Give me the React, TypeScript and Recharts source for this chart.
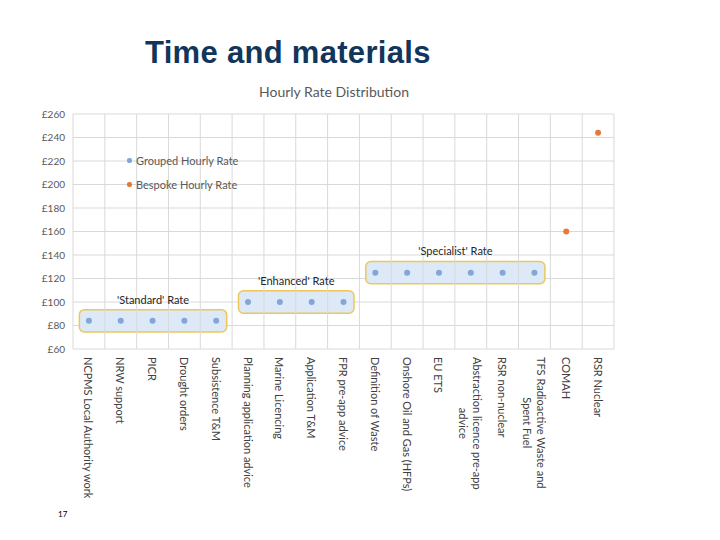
import React from 'react';
import {
  ScatterChart,
  Scatter,
  XAxis,
  YAxis,
  CartesianGrid,
  ReferenceArea,
  ReferenceLine,
} from 'recharts';

const categories = [
  'NCPMS Local Authority work',
  'NRW support',
  'PICR',
  'Drought orders',
  'Subsistence T&M',
  'Planning application advice',
  'Marine Licencing',
  'Application T&M',
  'FPR pre-app advice',
  'Definition of Waste',
  'Onshore Oil and Gas (HFPs)',
  'EU ETS',
  'Abstraction licence pre-app\nadvice',
  'RSR non-nuclear',
  'TFS Radioactive Waste and\nSpent Fuel',
  'COMAH',
  'RSR Nuclear',
];

// hourly rate per category, grouped ones first, bespoke last
const groupedRates = [84, 84, 84, 84, 84, 100, 100, 100, 100, 125, 125, 125, 125, 125, 125];
const bespokeRates = [160, 244];

const yTicks = [60, 80, 100, 120, 140, 160, 180, 200, 220, 240, 260];

const rateGroups = [
  { label: "'Standard' Rate", first: 0, last: 4 },
  { label: "'Enhanced' Rate", first: 5, last: 8 },
  { label: "'Specialist' Rate", first: 9, last: 14 },
];

const BLUE = '#80a7d6';
const ORANGE = '#e8773a';
const GRID = '#d9d9d9';
const FONT = 'Lato, "Liberation Sans", sans-serif';

const groupedData = groupedRates.map((y, i) => ({ x: i, y }));
const bespokeData = bespokeRates.map((y, i) => ({ x: groupedRates.length + i, y }));
const boundaries = [...categories.map((_, i) => i - 0.5), categories.length - 0.5];

let ctx: CanvasRenderingContext2D | null = null;
const measure = (text: string) => {
  if (!ctx) ctx = document.createElement('canvas').getContext('2d');
  if (!ctx) return text.length * 5.3;
  ctx.font = `11px ${FONT}`;
  return ctx.measureText(text).width;
};

const CategoryTick = (props: any) => {
  const { x, y, payload } = props;
  const lines = (categories[payload.value] ?? '').split('\n');
  const w = measure(lines[0]);
  return (
    <g transform={`translate(${x},${y})`}>
      <g transform="rotate(90)">
        {lines.length === 1 ? (
          <text x={0} y={0} dominantBaseline="central" textAnchor="start" fontSize={11} fill="#404040" fontFamily={FONT}>
            {lines[0]}
          </text>
        ) : (
          lines.map((line, i) => (
            <text
              key={i}
              x={w / 2}
              y={-7 + i * 14}
              dominantBaseline="central"
              textAnchor="middle"
              fontSize={11}
              fill="#404040"
              fontFamily={FONT}
            >
              {line}
            </text>
          ))
        )}
      </g>
    </g>
  );
};

const RoundedBox = (props: any) => {
  const { x, y, width, height } = props;
  return <rect x={x} y={y} width={width} height={height} rx={5} ry={5} fill="#dde9f6" stroke="#ecc85a" strokeWidth={1.5} />;
};

const Dot = (props: any) => <circle cx={props.cx} cy={props.cy} r={3} fill={props.fill} />;

const legendItems = [
  { name: 'Grouped Hourly Rate', color: BLUE },
  { name: 'Bespoke Hourly Rate', color: ORANGE },
];

export default function App() {
  return (
    <div style={{ position: 'absolute', left: 0, top: 0, width: 720, height: 540, background: '#fff' }}>
      <div
        style={{
          position: 'absolute',
          left: 145,
          top: 35,
          fontFamily: '"Liberation Sans", Arial, sans-serif',
          fontWeight: 'bold',
          fontSize: 31,
          letterSpacing: 0.3,
          color: '#12355b',
          whiteSpace: 'nowrap',
        }}
      >
        Time and materials
      </div>
      <div
        style={{
          position: 'absolute',
          left: 0,
          width: 668,
          top: 83,
          textAlign: 'center',
          fontFamily: FONT,
          fontSize: 14,
          color: '#595959',
        }}
      >
        Hourly Rate Distribution
      </div>
      <div style={{ position: 'absolute', left: 58, top: 509, fontFamily: FONT, fontSize: 8, color: '#000' }}>17</div>
      <div style={{ position: 'absolute', left: 0, top: 0 }}>
        <ScatterChart width={720} height={540} margin={{ top: 114, right: 106, bottom: 41, left: 13 }}>
          <CartesianGrid vertical={false} stroke={GRID} />
          {boundaries.map((b) => (
            <ReferenceLine key={b} x={b} stroke={GRID} />
          ))}
          <XAxis
            type="number"
            dataKey="x"
            domain={[-0.5, categories.length - 0.5]}
            ticks={categories.map((_, i) => i)}
            interval={0}
            tick={<CategoryTick />}
            tickLine={false}
            axisLine={false}
            height={150}
          />
          <YAxis
            type="number"
            dataKey="y"
            domain={[60, 260]}
            ticks={yTicks}
            tickFormatter={(v) => `£${v}`}
            tick={{ fontSize: 10, fill: '#595959', fontFamily: FONT }}
            tickLine={false}
            axisLine={false}
            width={60}
          />
          {rateGroups.map((g) => {
            const vals = groupedRates.slice(g.first, g.last + 1);
            const lo = Math.min(...vals);
            const hi = Math.max(...vals);
            return (
              <ReferenceArea
                key={g.label}
                x1={g.first - 0.3}
                x2={g.last + 0.33}
                y1={lo - 9.5}
                y2={hi + 9.5}
                shape={<RoundedBox />}
                label={{ value: g.label, position: 'top', fontSize: 11, fill: '#262626', fontFamily: FONT, offset: 6 }}
              />
            );
          })}
          <Scatter name="Grouped Hourly Rate" data={groupedData} fill={BLUE} shape={<Dot />} isAnimationActive={false} />
          <Scatter name="Bespoke Hourly Rate" data={bespokeData} fill={ORANGE} shape={<Dot />} isAnimationActive={false} />
        </ScatterChart>
      </div>
      <div style={{ position: 'absolute', left: 127, top: 148, fontFamily: FONT, fontSize: 11, color: '#595959' }}>
        {legendItems.map((item) => (
          <div key={item.name} style={{ display: 'flex', alignItems: 'center', height: 24 }}>
            <span style={{ width: 5, height: 5, borderRadius: 2, background: item.color, marginRight: 4 }} />
            {item.name}
          </div>
        ))}
      </div>
    </div>
  );
}
